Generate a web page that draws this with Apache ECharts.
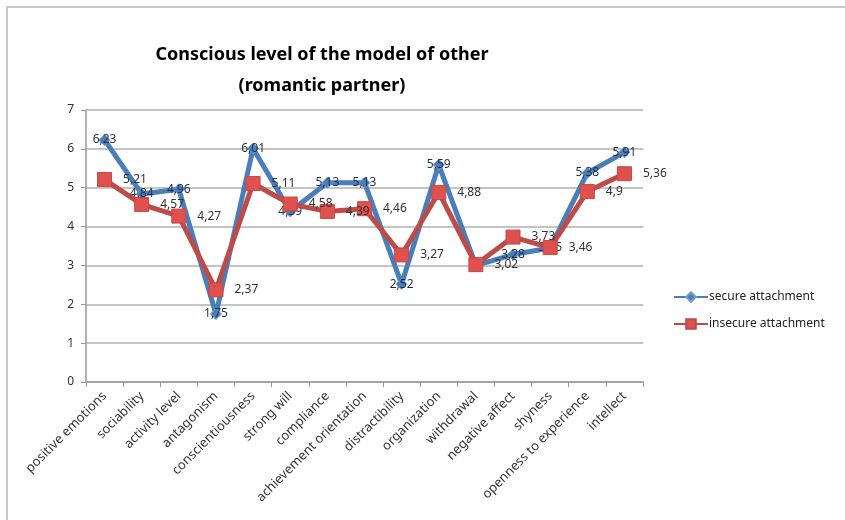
<!DOCTYPE html>
<html><head><meta charset="utf-8">
<script src="https://cdn.jsdelivr.net/npm/echarts@6/dist/echarts.min.js"></script>
<style>html,body{margin:0;padding:0;background:#fff}#c{width:845px;height:520px}</style>
</head><body><div id="c"></div>
<script>
const categories = ["positive emotions","sociability","activity level","antagonism","conscientiousness","strong will","compliance","achievement orientation","distractibility","organization","withdrawal","negative affect","shyness","openness to experience","intellect"];
const secureValues = [6.23,4.84,4.96,1.75,6.01,4.39,5.13,5.13,2.52,5.59,3,3.28,3.45,5.38,5.91];
const insecureValues = [5.21,4.57,4.27,2.37,5.11,4.58,4.39,4.46,3.27,4.88,3.02,3.73,3.46,4.9,5.36];
const yTicks = [0,1,2,3,4,5,6,7];
const titleLines = ["Conscious level of the model of other","(romantic partner)"];
const seriesNames = ["secure attachment","insecure attachment"];

const fmt = p => String(p.value).replace('.', ',');
const chart = echarts.init(document.getElementById('c'), null, {renderer:'canvas'});
chart.setOption({
  animation:false,
  backgroundColor:'#fff',
  title:{text:titleLines.join('\n'), left:317, textAlign:'center', top:34,
    textStyle:{fontFamily:'Noto Sans', fontWeight:'bold', fontSize:18, color:'#000', lineHeight:31}},
  graphic:[{type:'rect', shape:{x:7,y:7,width:860,height:540}, style:{fill:'none', stroke:'#c8c8c8', lineWidth:2}, silent:true}],
  legend:{orient:'vertical', left:668, top:286, itemGap:15, itemWidth:34, itemHeight:12,
    textStyle:{fontFamily:'Noto Sans', fontSize:12, color:'#222', padding:[0,0,0,-4]}, data:seriesNames},
  grid:{left:86, right:202, top:110, bottom:138},
  xAxis:{type:'category', data:categories, boundaryGap:true,
    axisLine:{lineStyle:{color:'#999', width:1.5}},
    axisTick:{show:true, alignWithLabel:false, length:5, lineStyle:{color:'#999'}},
    axisLabel:{interval:0, rotate:45, fontFamily:'Noto Sans', fontSize:13, color:'#333', margin:12}},
  yAxis:{type:'value', min:0, max:7, interval:1,
    axisLine:{show:true, lineStyle:{color:'#999', width:1.5}},
    axisTick:{show:true, length:5, lineStyle:{color:'#999'}},
    axisLabel:{fontFamily:'Noto Sans', fontSize:12, color:'#333', margin:12, formatter:v=>yTicks.includes(v)?String(v):''},
    splitLine:{lineStyle:{color:'#b0b0b0', width:1.5}}},
  series:[
    {name:seriesNames[0], type:'line', data:secureValues, z:2,
      symbol:'diamond', symbolSize:11,
      lineStyle:{color:'#4a7ebb', width:5},
      itemStyle:{color:'#4a7ebb', borderColor:'#6f9bd1', borderWidth:1},
      label:{show:true, position:'inside', formatter:fmt, fontFamily:'Noto Sans', fontSize:12, color:'#1f2f4a'}},
    {name:seriesNames[1], type:'line', data:insecureValues, z:3,
      symbol:'rect', symbolSize:14,
      lineStyle:{color:'#be4b48', width:5},
      itemStyle:{color:'#e0504d', borderColor:'#be4b48', borderWidth:1},
      label:{show:true, position:'right', distance:11, formatter:fmt, fontFamily:'Noto Sans', fontSize:12, color:'#333'}}
  ]
});
</script></body></html>
